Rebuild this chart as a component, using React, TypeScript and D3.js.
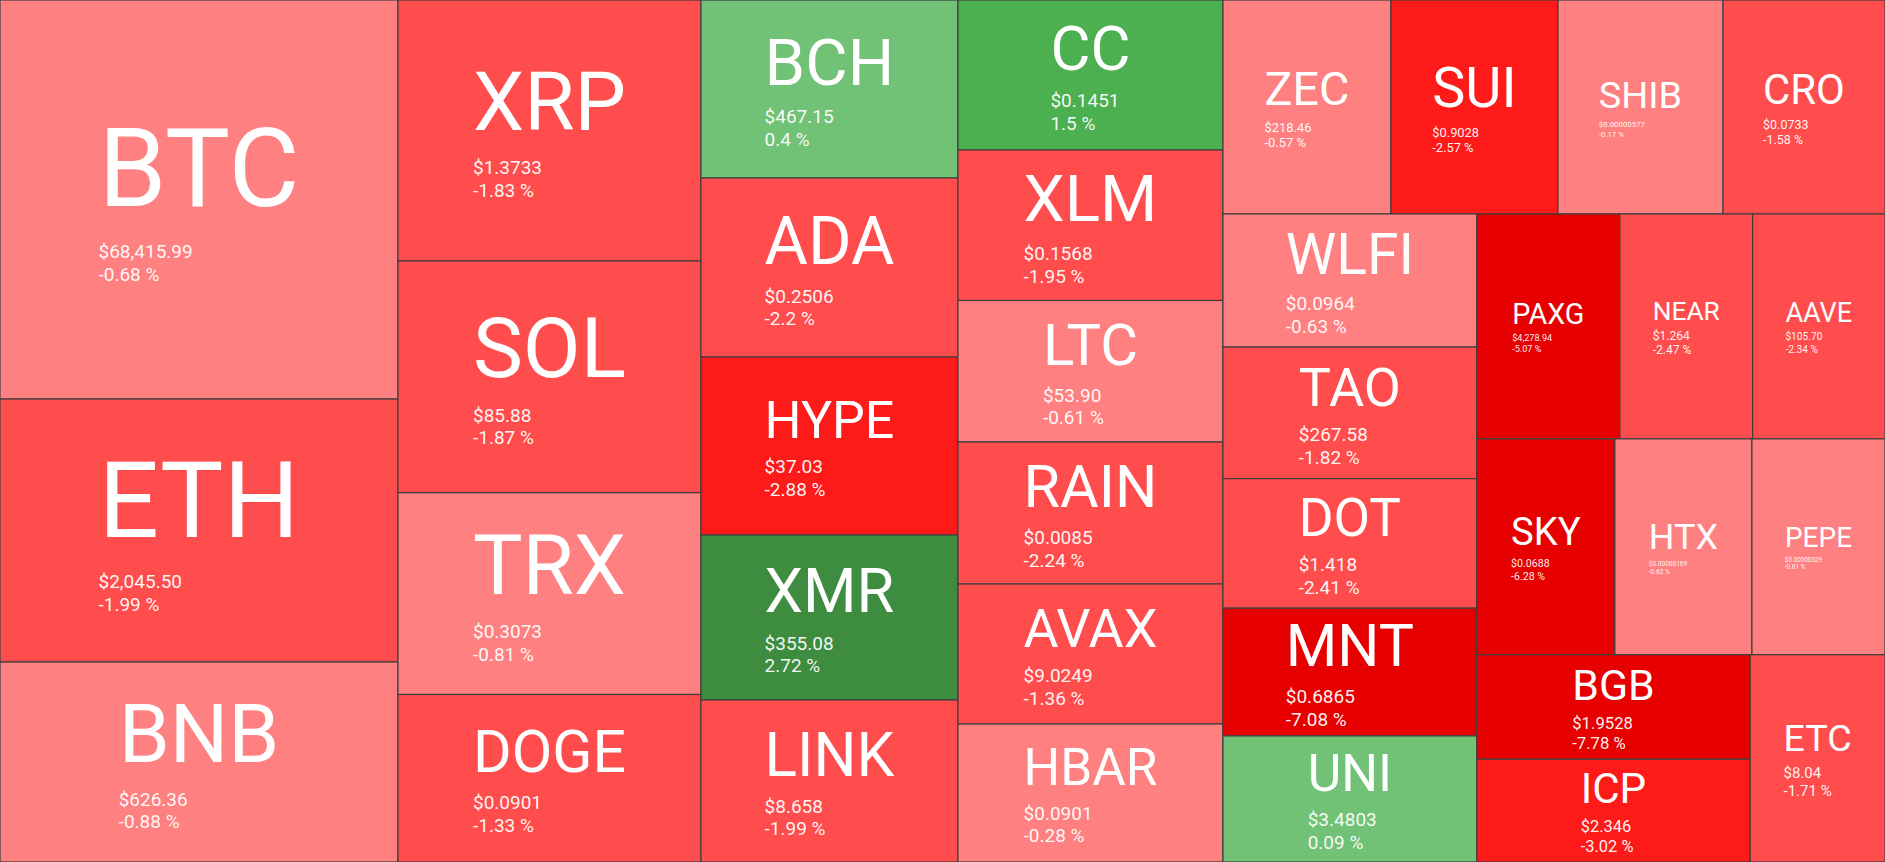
import React, { useMemo } from "react";
import * as d3 from "d3";

const WIDTH = 1885;
const HEIGHT = 862;

const symbols = ["BTC","ETH","BNB","XRP","SOL","TRX","DOGE","BCH","ADA","HYPE","XMR","LINK","CC","XLM","LTC","RAIN","AVAX","HBAR","ZEC","SUI","SHIB","CRO","WLFI","TAO","DOT","MNT","UNI","PAXG","NEAR","AAVE","SKY","HTX","PEPE","BGB","ICP","ETC"];
const prices = ["$68,415.99","$2,045.50","$626.36","$1.3733","$85.88","$0.3073","$0.0901","$467.15","$0.2506","$37.03","$355.08","$8.658","$0.1451","$0.1568","$53.90","$0.0085","$9.0249","$0.0901","$218.46","$0.9028","$0.00000577","$0.0733","$0.0964","$267.58","$1.418","$0.6865","$3.4803","$4,278.94","$1.264","$105.70","$0.0688","$0.00000169","$0.00000329","$1.9528","$2.346","$8.04"];
const changes = [-0.68,-1.99,-0.88,-1.83,-1.87,-0.81,-1.33,0.4,-2.2,-2.88,2.72,-1.99,1.5,-1.95,-0.61,-2.24,-1.36,-0.28,-0.57,-2.57,-0.17,-1.58,-0.63,-1.82,-2.41,-7.08,0.09,-5.07,-2.47,-2.34,-6.28,-0.62,-0.81,-7.78,-3.02,-1.71];
const weights = [158802,104674,79600,79083,70205,61145,50753,45746,46003,45746,42405,41634,39750,39883,37498,37630,37100,36570,35952,35738,35310,34668,33782,33401,32893,32436,32004,32175,29858,29768,29808,29592,28728,28547,28109,27945];

function colorFor(c: number): string {
  if (c >= 2) return "#3d8c40";
  if (c >= 1) return "#4caf50";
  if (c >= 0) return "#71c177";
  if (c > -1) return "#ff8080";
  if (c > -2.5) return "#ff4d4d";
  if (c > -5) return "#ff1a1a";
  return "#e60000";
}

let ctx: CanvasRenderingContext2D | null = null;
function emWidth(text: string): number {
  if (!ctx) ctx = document.createElement("canvas").getContext("2d");
  if (!ctx) return text.length * 0.6;
  ctx.font = "100px Roboto";
  return ctx.measureText(text).width / 100;
}

export default function App() {
  const leaves = useMemo(() => {
    const data = {
      name: "root",
      children: symbols.map((s, i) => ({ name: s, price: prices[i], change: changes[i], value: weights[i] })),
    };
    const root = d3.hierarchy<any>(data).sum((d: any) => d.value || 0);
    d3.treemap<any>().tile(d3.treemapSquarify).size([WIDTH, HEIGHT]).round(false)(root);
    return root.leaves() as any[];
  }, []);

  return (
    <div>
      <style>{`html,body{margin:0;padding:0;overflow:hidden;}`}</style>
      <svg width={WIDTH} height={HEIGHT} style={{ display: "block", fontFamily: "Roboto, sans-serif" }}>
        {leaves.map((n: any) => {
          const d = n.data;
          const w = n.x1 - n.x0;
          const h = n.y1 - n.y0;
          const cx = (n.x0 + n.x1) / 2;
          const cy = (n.y0 + n.y1) / 2;
          const lem = emWidth(d.name);
          let lf = (0.505 * w) / lem;
          if (lf > 0.5 * h) lf = 0.41 * h;
          const pem = emWidth(d.price);
          const pf = Math.min(19, 0.16 * h, (0.28 * w) / pem);
          const total = 1.011 * lf + 2.2 * pf;
          const capTop = cy - total / 2 + 0.05 * lf;
          const base = capTop + 0.711 * lf;
          const priceBase = base + 0.3 * lf + pf;
          const pctBase = priceBase + 1.2 * pf;
          const labelW = lem * lf;
          const tx = cx - labelW / 2;
          return (
            <g key={d.name}>
              <rect x={n.x0} y={n.y0} width={w} height={h} fill={colorFor(d.change)} stroke="#3e3e3e" strokeWidth={1.2} />
              <text x={cx} y={base} textAnchor="middle" fontSize={lf} fill="#ffffff">{d.name}</text>
              <text x={tx} y={priceBase} fontSize={pf} fill="#ffffff" fillOpacity={0.95}>{d.price}</text>
              <text x={tx} y={pctBase} fontSize={pf} fill="#ffffff" fillOpacity={0.95}>{`${d.change} %`}</text>
            </g>
          );
        })}
      </svg>
    </div>
  );
}
